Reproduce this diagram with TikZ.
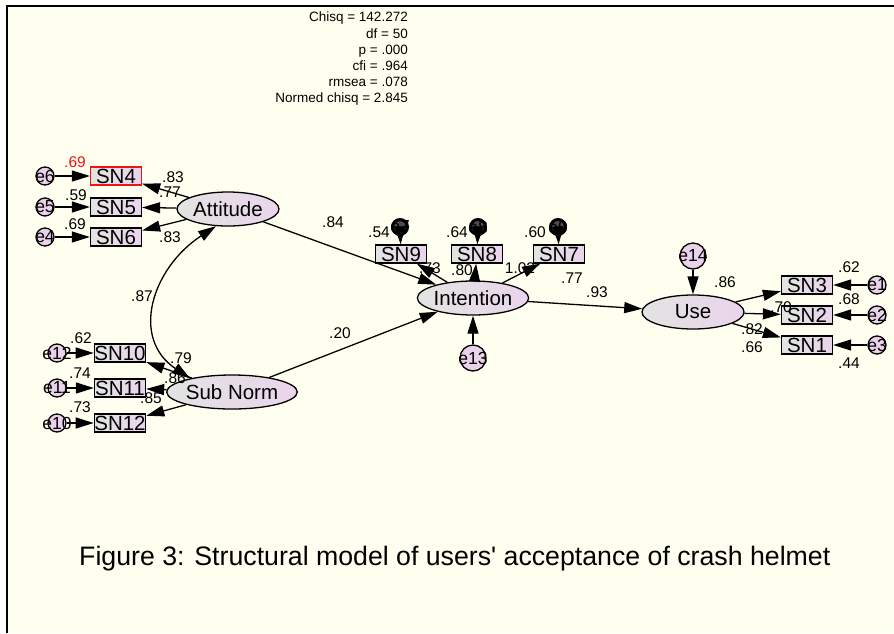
\documentclass[tikz,border=0pt]{standalone}
\usepackage{fontspec}
\setmainfont{Liberation Sans}[Ligatures=TeXOff]
\usetikzlibrary{arrows.meta,shapes.geometric}
\definecolor{cream}{RGB}{255,255,240}
\definecolor{pinkR}{RGB}{234,212,236}
\definecolor{grayL}{RGB}{226,228,226}
\definecolor{errpink}{RGB}{234,210,234}
\definecolor{redL}{RGB}{240,20,20}
\begin{document}
\begin{tikzpicture}[x=1pt,y=-1pt,
  lat/.style={ellipse,draw,line width=1.3pt,minimum width=102pt,minimum height=34pt,inner sep=0pt,left color=grayL,right color=pinkR,font=\fontsize{20.5}{20.5}\selectfont},
  obs/.style={rectangle,draw,line width=1.3pt,minimum width=51pt,minimum height=18pt,inner sep=0pt,left color=grayL,right color=pinkR,font=\fontsize{20.5}{20.5}\selectfont,text height=14.5pt,text depth=0pt},
  err/.style={circle,draw,line width=1.3pt,fill=errpink,minimum size=18pt,inner sep=0pt},
  errb/.style={circle,draw,line width=1.3pt,fill=errpink,minimum size=26pt,inner sep=0pt},
  elab/.style={font=\fontsize{17.5}{17.5}\selectfont,inner sep=0pt},
  eblk/.style={circle,draw,line width=3pt,fill=black!70,minimum size=15pt,inner sep=0pt},
  num/.style={font=\fontsize{15.5}{15.5}\selectfont,inner sep=0pt},
  arr/.style={line width=1.3pt,-{Triangle[length=18pt,width=11pt]}},
  darr/.style={line width=1.3pt,{Triangle[length=18pt,width=11pt]}-{Triangle[length=18pt,width=11pt]}}
]
\useasboundingbox (0,0) rectangle (894,633);
\fill[white] (0,0) rectangle (894,633);
\fill[cream] (7,6) rectangle (894,633);
\draw[line width=2.2pt] (7,633) -- (7,6) -- (894,6);

% stats
\node[anchor=north east,align=right,inner sep=0pt,font=\fontsize{13.5}{16.2}\selectfont] (stats) at (408,12)
 {Chisq = 142.272\\df = 50\\p = .000\\cfi = .964\\rmsea = .078\\Normed chisq = 2.845};

% latent
\node[lat] (Att) at (228,209) {Attitude};
\node[lat] (SubN) at (232,392) {Sub Norm};
\node[lat] (Int) at (473,298) {Intention};
\node[lat] (Use) at (693,312) {Use};

% observed
\node[obs,draw=redL] (SN4) at (116,176) {SN4};
\node[obs] (SN5) at (116,207) {SN5};
\node[obs] (SN6) at (116,237) {SN6};
\node[obs] (SN10) at (120,353) {SN10};
\node[obs] (SN11) at (120,388) {SN11};
\node[obs] (SN12) at (120,423) {SN12};
\node[obs] (SN9) at (401,254) {SN9};
\node[obs] (SN8) at (477,254) {SN8};
\node[obs] (SN7) at (559,254) {SN7};
\node[obs] (SN3) at (807,285) {SN3};
\node[obs] (SN2) at (807,315) {SN2};
\node[obs] (SN1) at (807,345) {SN1};

% errors
\node[err,label={[elab]center:e6}] (e6) at (45,176) {};
\node[err,label={[elab]center:e5}] (e5) at (45,207) {};
\node[err,label={[elab]center:e4}] (e4) at (45,237) {};
\node[err,label={[elab]center:e12}] (e12) at (57,353) {};
\node[err,label={[elab]center:e11}] (e11) at (57,388) {};
\node[err,label={[elab]center:e10}] (e10) at (57,423) {};
\node[eblk,label={[elab]center:e7}] (e7) at (400,227) {};
\node[eblk,label={[elab]center:e8}] (e8) at (478,227) {};
\node[eblk,label={[elab]center:e9}] (e9) at (558,227) {};
\node[errb,label={[elab]center:e13}] (e13) at (473,358) {};
\node[errb,label={[elab]center:e14}] (e14) at (693,256) {};
\node[err,label={[elab]center:e1}] (e1) at (877,285) {};
\node[err,label={[elab]center:e2}] (e2) at (877,315) {};
\node[err,label={[elab]center:e3}] (e3) at (877,345) {};

% arrows
\foreach \e/\s in {e6/SN4,e5/SN5,e4/SN6,e12/SN10,e11/SN11,e10/SN12,e7/SN9,e8/SN8,e9/SN7,e1/SN3,e2/SN2,e3/SN1}
  \draw[arr] (\e) -- (\s);
\foreach \s in {SN4,SN5,SN6} \draw[arr] (Att) -- (\s);
\foreach \s in {SN10,SN11,SN12} \draw[arr] (SubN) -- (\s);
\foreach \s in {SN9,SN8,SN7} \draw[arr] (Int) -- (\s);
\foreach \s in {SN3,SN2,SN1} \draw[arr] (Use) -- (\s);
\draw[arr] (Att) -- (Int);
\draw[arr] (SubN) -- (Int);
\draw[arr] (Int) -- (Use);
\draw[arr] (e13) -- (Int);
\draw[arr] (e14) -- (Use);
\draw[darr] (Att.235) .. controls (152,268) and (130,338) .. (SubN.162);

% numbers
\node[num,text=redL] (n1) at (75,162) {.69};
\node[num] (n2) at (76,195) {.59};
\node[num] (n3) at (75,224) {.69};
\node[num] (n4) at (173,177) {.83};
\node[num] (n5) at (170,192) {.77};
\node[num] (n6) at (170,237) {.83};
\node[num] (n7) at (142,296) {.87};
\node[num] (n8) at (333,222) {.84};
\node[num] (n9) at (340,333) {.20};
\node[num] (n10) at (81,338) {.62};
\node[num] (n11) at (80,373) {.74};
\node[num] (n12) at (80,407) {.73};
\node[num] (n13) at (181,358) {.79};
\node[num] (n14) at (175,378) {.86};
\node[num] (n15) at (151,398) {.85};
\node[num] (n16) at (379,232) {.54};
\node[num] (n17) at (457,232) {.64};
\node[num] (n18) at (535,232) {.60};
\node[num] (n19) at (430,268) {.73};
\node[num] (n20) at (462,270) {.80};
\node[num] (n21) at (520,268) {1.02};
\node[num] (n22) at (572,278) {.77};
\node[num] (n23) at (597,292) {.93};
\node[num] (n24) at (725,282) {.86};
\node[num] (n25) at (849,267) {.62};
\node[num] (n26) at (849,299) {.68};
\node[num] (n27) at (781,307) {.70};
\node[num] (n28) at (752,329) {.82};
\node[num] (n29) at (752,347) {.66};
\node[num] (n30) at (849,363) {.44};

% caption
\node[anchor=base west,inner sep=0pt,font=\fontsize{26.7}{26.7}\selectfont] (cap) at (79,565)
 {Figure 3: Structural model of users' acceptance of crash helmet};
\end{tikzpicture}
\end{document}
